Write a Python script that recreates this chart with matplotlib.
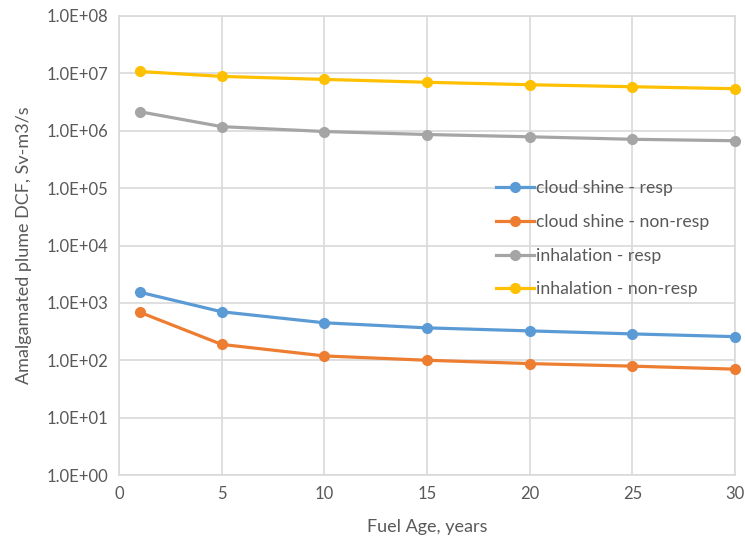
import matplotlib
matplotlib.use("Agg")
import matplotlib.pyplot as plt
from matplotlib.ticker import FixedLocator, NullLocator

fuel_age = [1, 5, 10, 15, 20, 25, 30]
cloud_resp = [1540, 700, 450, 367, 325, 288, 258]
cloud_nonresp = [690, 189, 119, 100, 87.5, 79, 70]
inh_resp = [2.15e6, 1.18e6, 0.97e6, 0.86e6, 0.785e6, 0.71e6, 0.67e6]
inh_nonresp = [1.08e7, 0.886e7, 0.785e7, 0.70e7, 0.634e7, 0.585e7, 0.54e7]

labels = ["cloud shine - resp", "cloud shine - non-resp",
          "inhalation - resp", "inhalation - non-resp"]
colors = ["#5B9BD5", "#ED7D31", "#A5A5A5", "#FFC000"]
y_ticks = [1e0, 1e1, 1e2, 1e3, 1e4, 1e5, 1e6, 1e7, 1e8]
x_ticks = [0, 5, 10, 15, 20, 25, 30]

plt.rcParams['font.family'] = ['Lato', 'DejaVu Sans']
txt = "#595959"

fig = plt.figure(figsize=(7.45, 5.46), dpi=100)
ax = fig.add_axes([0.1597, 0.130, 0.8269, 0.8407])

for ys, c, lab in zip([cloud_resp, cloud_nonresp, inh_resp, inh_nonresp], colors, labels):
    ax.plot(fuel_age, ys, color=c, lw=2.3, marker='o', ms=7, label=lab, clip_on=False, zorder=3)

ax.set_yscale('log')
ax.set_ylim(1, 1e8)
ax.set_xlim(0, 30)
ax.yaxis.set_major_locator(FixedLocator(y_ticks))
ax.yaxis.set_minor_locator(NullLocator())
ax.set_yticks(y_ticks)
ax.set_yticklabels(["1.0E+%02d" % i for i in range(9)])
ax.set_xticks(x_ticks)
ax.grid(True, color="#D9D9D9", lw=1.2)
ax.set_axisbelow(True)
for s in ax.spines.values():
    s.set_color("#D9D9D9")
    s.set_linewidth(1.2)
ax.tick_params(length=0, colors=txt, labelsize=12, pad=8)
ax.set_xlabel("Fuel Age, years", color=txt, fontsize=13, labelpad=12)
ax.set_ylabel("Amalgamated plume DCF, Sv-m3/s", color=txt, fontsize=13, labelpad=10)

leg = ax.legend(loc='upper left', bbox_to_anchor=(0.6, 0.657), frameon=False,
                fontsize=12.7, labelcolor=txt, handlelength=2.2, handletextpad=0.1,
                labelspacing=1.0, borderaxespad=0)

fig.savefig("out.png", dpi=100)
